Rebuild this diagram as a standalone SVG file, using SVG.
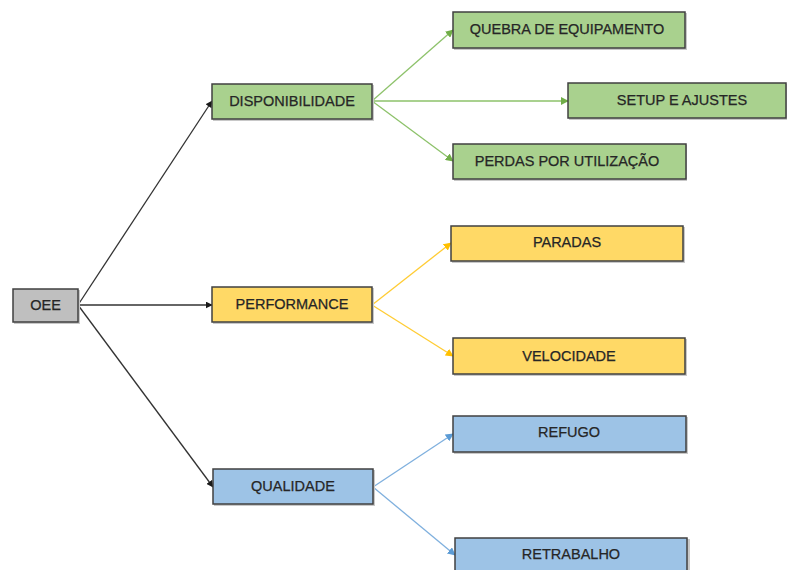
<svg xmlns="http://www.w3.org/2000/svg" width="787" height="570" viewBox="0 0 787 570">
<defs>
<style>
.box{stroke:#404040;stroke-width:1.5}
.g{fill:#A9D18E}.y{fill:#FFD966}.b{fill:#9DC3E6}.k{fill:#BFBFBF}
.sh{fill:#c8c8c8}
text{font-family:"Liberation Sans",Arial,sans-serif;font-size:14.5px;fill:#262626;stroke:#262626;stroke-width:0.25;text-anchor:middle}
.c{fill:none;stroke-width:1.3}
</style>
<marker id="ak" viewBox="0 0 10 10" refX="9" refY="5" markerWidth="7" markerHeight="7" markerUnits="userSpaceOnUse" orient="auto"><path d="M0,0L10,5L0,10z" fill="#1a1a1a"/></marker>
<marker id="ag" viewBox="0 0 10 10" refX="9" refY="5" markerWidth="8" markerHeight="8" markerUnits="userSpaceOnUse" orient="auto"><path d="M0,0L10,5L0,10z" fill="#70AD47"/></marker>
<marker id="ay" viewBox="0 0 10 10" refX="9" refY="5" markerWidth="8" markerHeight="8" markerUnits="userSpaceOnUse" orient="auto"><path d="M0,0L10,5L0,10z" fill="#FFC000"/></marker>
<marker id="ab" viewBox="0 0 10 10" refX="9" refY="5" markerWidth="8" markerHeight="8" markerUnits="userSpaceOnUse" orient="auto"><path d="M0,0L10,5L0,10z" fill="#5B9BD5"/></marker>
</defs>
<g id="connectors">
<path class="c" stroke="#333" marker-end="url(#ak)" d="M78,305L212,101"/>
<path class="c" stroke="#333" marker-end="url(#ak)" d="M78,305L212,305"/>
<path class="c" stroke="#333" marker-end="url(#ak)" d="M78,305L213,487"/>
<path class="c" stroke="#8DC26A" marker-end="url(#ag)" d="M372,101L453,30"/>
<path class="c" stroke="#8DC26A" marker-end="url(#ag)" d="M372,101L568,101"/>
<path class="c" stroke="#8DC26A" marker-end="url(#ag)" d="M372,101L453,161"/>
<path class="c" stroke="#FFCC33" marker-end="url(#ay)" d="M372,305L451,243"/>
<path class="c" stroke="#FFCC33" marker-end="url(#ay)" d="M372,305L453,356"/>
<path class="c" stroke="#7FB0DE" marker-end="url(#ab)" d="M373,487L453,434"/>
<path class="c" stroke="#7FB0DE" marker-end="url(#ab)" d="M373,487L455,555"/>
</g>
<g id="oee"><rect class="sh" x="14" y="290" width="66" height="34"/><rect class="box k" x="13" y="289" width="65" height="33"/><text x="45.5" y="310">OEE</text></g>
<g id="disponibilidade"><rect class="sh" x="213" y="85" width="161" height="36"/><rect class="box g" x="212" y="84" width="160" height="35"/><text x="292" y="106">DISPONIBILIDADE</text></g>
<g id="performance"><rect class="sh" x="213" y="288" width="161" height="36"/><rect class="box y" x="212" y="287" width="160" height="35"/><text x="292" y="309">PERFORMANCE</text></g>
<g id="qualidade"><rect class="sh" x="214" y="470" width="161" height="36"/><rect class="box b" x="213" y="469" width="160" height="35"/><text x="293" y="491">QUALIDADE</text></g>
<g id="quebra"><rect class="sh" x="454" y="13" width="233" height="37"/><rect class="box g" x="453" y="12" width="232" height="36"/><text x="567" y="34">QUEBRA DE EQUIPAMENTO</text></g>
<g id="setup"><rect class="sh" x="569" y="84" width="219" height="36"/><rect class="box g" x="568" y="83" width="218" height="35"/><text x="682" y="105">SETUP E AJUSTES</text></g>
<g id="perdas"><rect class="sh" x="454" y="145" width="233" height="36"/><rect class="box g" x="453" y="144" width="233" height="35"/><text x="567" y="166">PERDAS POR UTILIZAÇÃO</text></g>
<g id="paradas"><rect class="sh" x="452" y="227" width="233" height="36"/><rect class="box y" x="451" y="226" width="232" height="35"/><text x="567" y="247">PARADAS</text></g>
<g id="velocidade"><rect class="sh" x="454" y="339" width="233" height="37"/><rect class="box y" x="453" y="338" width="232" height="36"/><text x="569" y="361">VELOCIDADE</text></g>
<g id="refugo"><rect class="sh" x="454" y="417" width="234" height="37"/><rect class="box b" x="453" y="416" width="233" height="36"/><text x="569" y="437">REFUGO</text></g>
<g id="retrabalho"><rect class="sh" x="456" y="539" width="234" height="40"/><rect class="box b" x="455" y="538" width="232" height="40"/><text x="571" y="559">RETRABALHO</text></g>
</svg>
